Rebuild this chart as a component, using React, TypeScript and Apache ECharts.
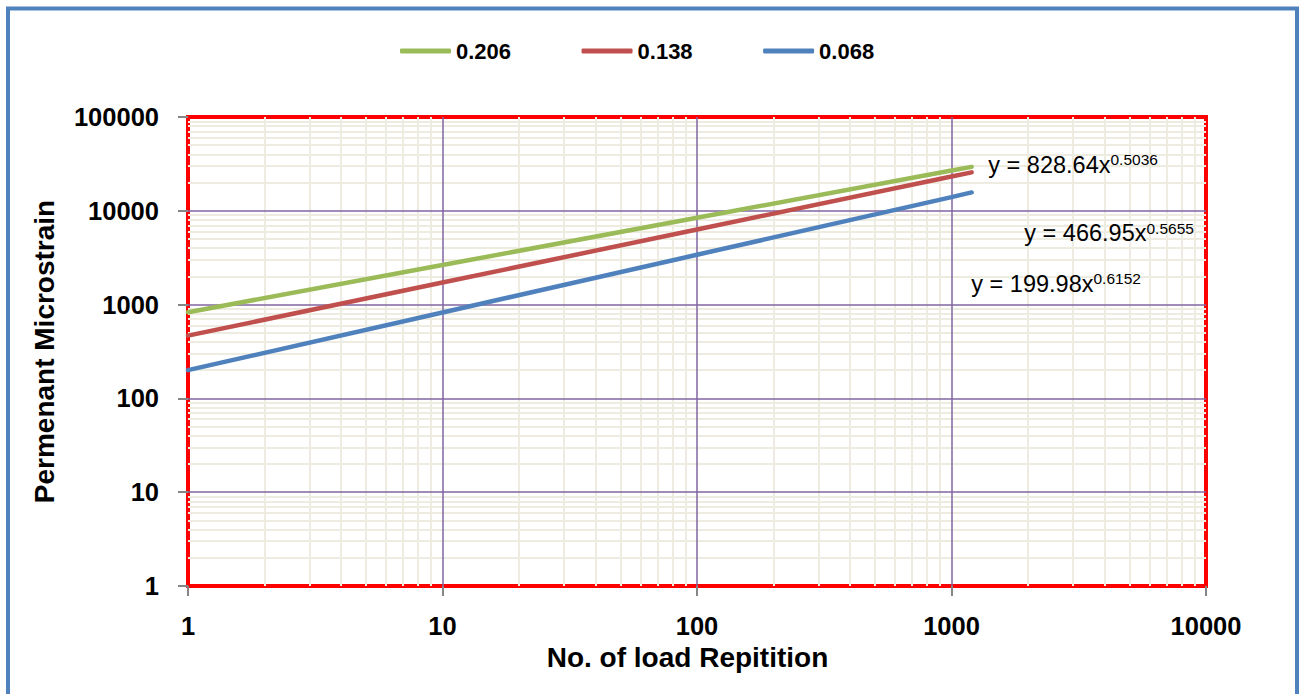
import React, { useEffect, useRef } from "react";
import * as echarts from "echarts";

const FONT = '"Liberation Sans", Arial, sans-serif';

// Data (power-law trend lines on log-log axes)
const X_REPS = [1, 10, 100, 1000, 1200];
const S_206 = [830, 2640, 8430, 26900, 29400];
const S_138 = [467, 1720, 6320, 23200, 25700];
const S_068 = [200, 825, 3400, 14000, 15700];

const SERIES_NAMES = ["0.206", "0.138", "0.068"];
const SERIES_COLORS = ["#9BBB59", "#C0504D", "#4F81BD"];

const X_MAJOR = [10, 100, 1000];
const Y_MAJOR = [10, 100, 1000, 10000];
const X_DECADES = [1, 10, 100, 1000];
const Y_DECADES = [1, 10, 100, 1000, 10000];
const MINOR_MULT = [2, 3, 4, 5, 6, 7, 8, 9];

const EQUATIONS = [
  { main: "y = 828.64x", sup: "0.5036" },
  { main: "y = 466.95x", sup: "0.5655" },
  { main: "y = 199.98x", sup: "0.6152" },
];

export default function App() {
  const ref = useRef<HTMLDivElement>(null);

  useEffect(() => {
    if (!ref.current) return;
    const chart = echarts.init(ref.current, undefined, { renderer: "svg" });

    const xMinor = X_DECADES.flatMap((d) => MINOR_MULT.map((m) => m * d));
    const yMinor = Y_DECADES.flatMap((d) => MINOR_MULT.map((m) => m * d));

    const pairs = (ys: number[]) => X_REPS.map((x, i) => [x, ys[i]]);
    const seriesValues = [S_206, S_138, S_068];

    const eqPos = [
      { x: 1110.5, yMain: 164.5, ySup: 159.5 },
      { x: 1146.5, yMain: 232.5, ySup: 228 },
      { x: 1093.5, yMain: 284, ySup: 278.5 },
    ];

    const graphics: any[] = [
      {
        type: "rect",
        shape: { x: 8, y: 8.5, width: 1289, height: 700 },
        style: { fill: "none", stroke: "#4F81BD", lineWidth: 4 },
        silent: true,
        z: 10,
      },
    ];
    EQUATIONS.forEach((eq, i) => {
      graphics.push({
        type: "text",
        z: 10,
        style: {
          text: eq.main,
          x: eqPos[i].x,
          y: eqPos[i].yMain,
          fill: "#000",
          font: `23.5px ${FONT}`,
          textAlign: "right",
          textVerticalAlign: "middle",
        },
      });
      graphics.push({
        type: "text",
        z: 10,
        style: {
          text: eq.sup,
          x: eqPos[i].x,
          y: eqPos[i].ySup,
          fill: "#000",
          font: `15.5px ${FONT}`,
          textAlign: "left",
          textVerticalAlign: "middle",
        },
      });
    });

    const axisCommon = {
      type: "log" as const,
      logBase: 10,
      nameLocation: "middle" as const,
      nameTextStyle: {
        fontFamily: FONT,
        fontSize: 28,
        fontWeight: "bold" as const,
        color: "#000",
      },
      axisLine: { show: false },
      axisTick: { show: true, length: 10, lineStyle: { color: "#868686", width: 2 } },
      splitLine: { show: false },
      minorTick: { show: false },
      minorSplitLine: { show: false },
    };

    const option: any = {
      animation: false,
      backgroundColor: "#ffffff",
      grid: {
        left: 188,
        right: 93,
        top: 117,
        bottom: 108,
        show: true,
        borderColor: "#FF0000",
        borderWidth: 4,
        backgroundColor: "transparent",
      },
      legend: {
        data: SERIES_NAMES,
        left: 400,
        top: 40,
        padding: 0,
        icon: "roundRect",
        itemWidth: 51,
        itemHeight: 5,
        itemGap: 70.5,
        textStyle: { fontFamily: FONT, fontSize: 22, fontWeight: "bold", color: "#000" },
        selectedMode: false,
      },
      xAxis: {
        ...axisCommon,
        min: 1,
        max: 10000,
        name: "No. of load Repitition",
        nameGap: 57,
        nameTextStyle: { ...axisCommon.nameTextStyle, padding: [0, 19, 0, 0] },
        axisLabel: {
          margin: 27,
          fontFamily: FONT,
          fontSize: 25.5,
          fontWeight: "bold",
          color: "#000",
          formatter: (v: number) => String(Math.round(v)),
        },
      },
      yAxis: {
        ...axisCommon,
        min: 1,
        max: 100000,
        name: "Permenant Microstrain",
        nameGap: 130,
        axisLabel: {
          margin: 29,
          fontFamily: FONT,
          fontSize: 25.5,
          fontWeight: "bold",
          color: "#000",
          formatter: (v: number) => String(Math.round(v)),
        },
      },
      graphic: graphics,
      series: [
        {
          type: "line",
          name: "minorGrid",
          data: [],
          silent: true,
          z: 1,
          markLine: {
            z: 1,
            silent: true,
            symbol: "none",
            label: { show: false },
            emphasis: { disabled: true },
            lineStyle: { color: "#EEECE1", width: 2, type: "solid" },
            data: [
              ...xMinor.map((v) => ({ xAxis: v })),
              ...yMinor.map((v) => ({ yAxis: v })),
            ],
          },
        },
        {
          type: "line",
          name: "majorGrid",
          data: [],
          silent: true,
          z: 2,
          markLine: {
            z: 2,
            silent: true,
            symbol: "none",
            label: { show: false },
            emphasis: { disabled: true },
            lineStyle: { color: "#8064A2", width: 1.5, type: "solid" },
            data: [
              ...X_MAJOR.map((v) => ({ xAxis: v })),
              ...Y_MAJOR.map((v) => ({ yAxis: v })),
            ],
          },
        },
        ...SERIES_NAMES.map((name, i) => ({
          type: "line",
          name,
          z: 3,
          data: pairs(seriesValues[i]),
          showSymbol: false,
          symbol: "none",
          color: SERIES_COLORS[i],
          itemStyle: { color: SERIES_COLORS[i] },
          lineStyle: { color: SERIES_COLORS[i], width: 4.5, cap: "round" },
          emphasis: { disabled: true },
        })),
      ],
    };

    chart.setOption(option);
    return () => chart.dispose();
  }, []);

  return (
    <div
      ref={ref}
      style={{ position: "absolute", left: 0, top: 0, width: 1299, height: 694 }}
    />
  );
}
